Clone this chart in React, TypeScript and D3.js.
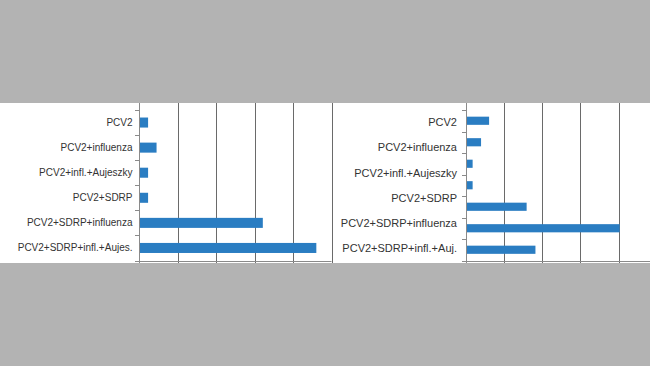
import React, { useEffect, useRef } from 'react';
import * as d3 from 'd3';

const leftLabels = ['PCV2', 'PCV2+influenza', 'PCV2+infl.+Aujeszky', 'PCV2+SDRP', 'PCV2+SDRP+influenza', 'PCV2+SDRP+infl.+Aujes.'];
const leftValues = [2.1, 4.3, 2.1, 2.1, 31.9, 45.8];

const rightLabels = ['PCV2', 'PCV2+influenza', 'PCV2+infl.+Aujeszky', 'PCV2+SDRP', 'PCV2+SDRP+influenza', 'PCV2+SDRP+infl.+Auj.'];
// right panel has one more bar than labels (as in the source image)
const rightValues = [5.9, 3.8, 1.6, 1.6, 15.7, 40.0, 18.0];

const xTicks = [0, 10, 20, 30, 40, 50];

const W = 650;
const H = 366;
const BAND_TOP = 103;
const BAND_BOTTOM = 263;

interface PanelOpts {
  axisX: number;
  axisEnd: number;
  labels: string[];
  values: number[];
  fontSize: number;
  labelGap: number;
  padInner: number;
}

const drawPanel = (g: d3.Selection<SVGGElement, unknown, null, undefined>, o: PanelOpts) => {
  const plotTop = 110;
  const plotBottom = 260.5;

  const x = d3.scaleLinear().domain([0, 50]).range([o.axisX, o.axisEnd]);
  const yBars = d3.scaleBand<number>()
    .domain(d3.range(o.values.length))
    .range([plotTop, plotBottom])
    .paddingInner(o.padInner)
    .paddingOuter(o.padInner / 2);
  const yLabels = d3.scaleBand<number>()
    .domain(d3.range(o.labels.length))
    .range([plotTop, plotBottom]);

  // vertical grid lines (run past the x axis as tick marks)
  g.selectAll('line.grid')
    .data(xTicks.slice(1))
    .enter()
    .append('line')
    .attr('x1', d => Math.round(x(d)) + 0.5)
    .attr('x2', d => Math.round(x(d)) + 0.5)
    .attr('y1', BAND_TOP - 5)
    .attr('y2', BAND_BOTTOM + 5)
    .attr('stroke', '#6a6a6a')
    .attr('stroke-width', 1);

  // x axis line
  g.append('line')
    .attr('x1', o.axisX - 3)
    .attr('x2', o.axisEnd)
    .attr('y1', Math.round(plotBottom) + 0.5)
    .attr('y2', Math.round(plotBottom) + 0.5)
    .attr('stroke', '#8a8a8a');

  // bars
  g.selectAll('rect.bar')
    .data(o.values)
    .enter()
    .append('rect')
    .attr('x', x(0) + 1)
    .attr('y', (_, i) => yBars(i)!)
    .attr('width', d => x(d) - x(0))
    .attr('height', yBars.bandwidth())
    .attr('fill', '#2a7dc2');

  // y axis + ticks between categories
  g.append('line')
    .attr('x1', Math.round(o.axisX) + 0.5)
    .attr('x2', Math.round(o.axisX) + 0.5)
    .attr('y1', BAND_TOP - 5)
    .attr('y2', BAND_BOTTOM + 5)
    .attr('stroke', '#8a8a8a');

  const step = yBars.step();
  g.selectAll('line.ytick')
    .data(d3.range(o.values.length + 1))
    .enter()
    .append('line')
    .attr('x1', Math.round(o.axisX) - 4)
    .attr('x2', Math.round(o.axisX))
    .attr('y1', i => Math.round(plotTop + i * step) + 0.5)
    .attr('y2', i => Math.round(plotTop + i * step) + 0.5)
    .attr('stroke', '#8a8a8a');

  g.selectAll('text.lbl')
    .data(o.labels)
    .enter()
    .append('text')
    .text(d => d)
    .attr('x', o.axisX - o.labelGap)
    .attr('y', (_, i) => yLabels(i)! + yLabels.bandwidth() / 2)
    .attr('dy', '0.35em')
    .attr('text-anchor', 'end')
    .attr('fill', '#333')
    .attr('font-size', o.fontSize)
    .attr('font-family', 'Arial, "Liberation Sans", sans-serif');
};

export default function App() {
  const svgRef = useRef<SVGSVGElement>(null);

  useEffect(() => {
    if (!svgRef.current) return;
    const svg = d3.select(svgRef.current);
    svg.selectAll('*').remove();

    svg.append('rect').attr('width', W).attr('height', H).attr('fill', '#b3b3b3');
    svg.append('rect')
      .attr('x', 0)
      .attr('y', BAND_TOP)
      .attr('width', W)
      .attr('height', BAND_BOTTOM - BAND_TOP)
      .attr('fill', '#fff');

    svg.append('clipPath')
      .attr('id', 'band')
      .append('rect')
      .attr('x', 0)
      .attr('y', BAND_TOP)
      .attr('width', W)
      .attr('height', BAND_BOTTOM - BAND_TOP);

    const g = svg.append('g').attr('clip-path', 'url(#band)');

    drawPanel(g.append('g'), {
      axisX: 139,
      axisEnd: 331.5,
      labels: leftLabels,
      values: leftValues,
      fontSize: 10,
      labelGap: 6.5,
      padInner: 0.6,
    });

    drawPanel(g.append('g'), {
      axisX: 465.5,
      axisEnd: 657,
      labels: rightLabels,
      values: rightValues,
      fontSize: 11,
      labelGap: 8.5,
      padInner: 0.62,
    });
  }, []);

  return (
    <svg
      ref={svgRef}
      width={W}
      height={H}
      style={{ position: 'absolute', top: 0, left: 0, display: 'block' }}
    />
  );
}
